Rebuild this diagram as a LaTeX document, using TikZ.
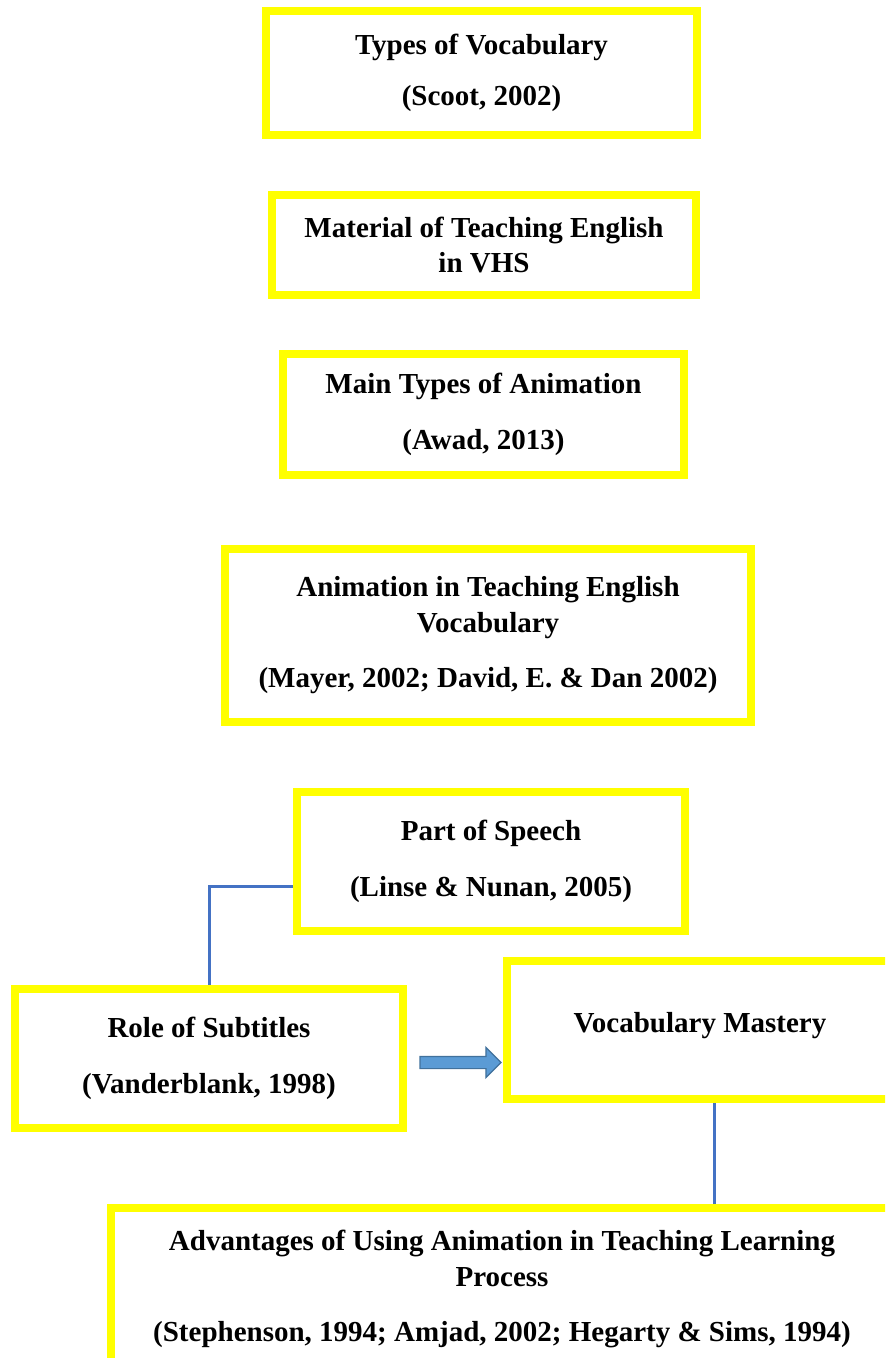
\documentclass[tikz,border=0pt]{standalone}
\usepackage{fontspec}
\setmainfont{Liberation Serif}
\usetikzlibrary{shapes.arrows}
\definecolor{boxyellow}{RGB}{255,255,0}
\definecolor{linkblue}{HTML}{4472C4}
\definecolor{arrowblue}{HTML}{5B9BD5}
\definecolor{arrowedge}{HTML}{41719C}

\begin{document}
\begin{tikzpicture}[x=0.5pt, y=-0.5pt,
            every node/.style={align=center, inner sep=0pt, font=\fontsize{14.5pt}{17.75pt}\selectfont\bfseries},
            box/.style={draw=boxyellow, line width=4pt, fill=white},
            link/.style={draw=linkblue, line width=1.5pt},
            blockarrow/.style={single arrow, draw=arrowedge, fill=arrowblue, line width=0.6pt,
                minimum height=40.5pt, single arrow head extend=4.5pt,
                inner xsep=0pt, inner ysep=2.75pt, single arrow tip angle=90}]
        \clip (0,0) rectangle (885,1358);
        % column of topics
        \node[box, minimum width=215.5pt, minimum height=62pt] (types) at (481.5,73)
            {Types of Vocabulary\\[8pt](Scoot, 2002)};
        \node[box, minimum width=212pt, minimum height=50pt] (material) at (484,245)
            {Material of Teaching English\\in VHS};
        \node[box, minimum width=200.5pt, minimum height=60.5pt] (kinds) at (483.5,414.5)
            {Main Types of Animation\\[10pt](Awad, 2013)};
        \node[box, minimum width=263pt, minimum height=86.5pt] (animation) at (488,635.5)
            {Animation in Teaching English\\Vocabulary\\[10pt](Mayer, 2002; David, E. \& Dan 2002)};
        \node[box, minimum width=194pt, minimum height=69.5pt] (pos) at (491,861.5)
            {Part of Speech\\[10pt](Linse \& Nunan, 2005)};
        \node[box, minimum width=194pt, minimum height=69.5pt] (role) at (209,1058.5)
            {Role of Subtitles\\[10pt](Vanderblank, 1998)};
        \node[box, minimum width=193pt, minimum height=69pt, text depth=8pt] (vm) at (700,1030)
            {Vocabulary Mastery};
        \node[box, minimum width=391pt, minimum height=81pt] (adv) at (502,1289)
            {Advantages of Using Animation in Teaching Learning\\Process\\[10pt](Stephenson, 1994; Amjad, 2002; Hegarty \& Sims, 1994)};
        \node[blockarrow] (arrow) at (457.5,1062.5) {};
        % connectors
        \draw[link] ([yshift=-12.25pt]pos.west) -| (role.north);
        \coordinate (vmfoot) at ([xshift=7pt]vm.south);
        \draw[link] (vmfoot) -- (vmfoot |- adv.north);
\end{tikzpicture}
\end{document}
